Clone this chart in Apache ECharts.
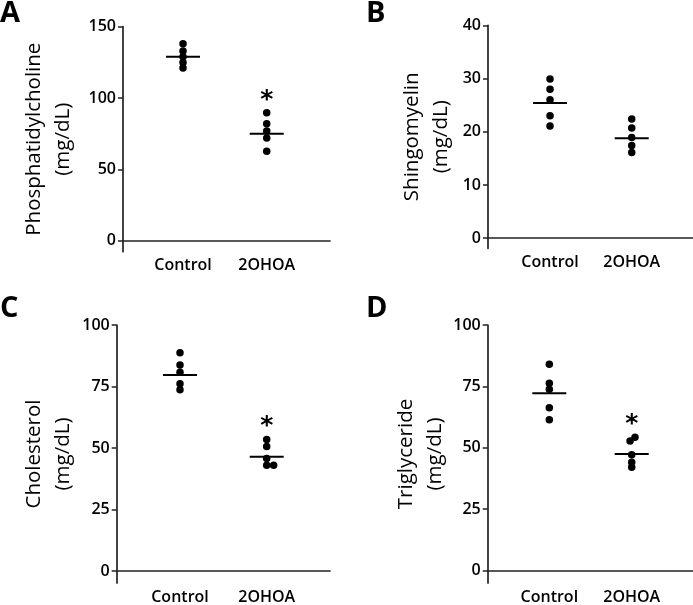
<!DOCTYPE html>
<html>
<head>
<meta charset="utf-8">
<script src="https://cdn.jsdelivr.net/npm/echarts@6/dist/echarts.min.js"></script>
<style>
  html, body { margin: 0; padding: 0; background: #fff; }
  #main { width: 693px; height: 605px; }
</style>
</head>
<body>
<div id="main"></div>
<script>
// groups on the x axis
var groups = ['Control', '2OHOA'];

// individual values (mg/dL)
var pcControl = [138, 133, 129, 125, 121];
var pc2ohoa = [89.8, 82, 77, 72, 62.7];
var smControl = [29.9, 28, 26, 23, 21.1];
var sm2ohoa = [22.4, 20.7, 18.9, 17.4, 16.1];
var choControl = [88.7, 83.8, 80.8, 76.1, 73.7];
var cho2ohoa = [53.5, 50.6, 45.8, 43, 43];
var tgControl = [84, 76.3, 73.8, 66.3, 61.4];
var tg2ohoa = [54.3, 52.7, 47.1, 44.1, 42.1];

// horizontal nudges of overlapping dots (x units)
var cho2ohoaJitter = [0, 0, 0, 0, 0.08];
var tg2ohoaJitter = [0.04, -0.02, 0, 0, 0];

// mean lines [Control, 2OHOA]
var pcMean = [129, 75];
var smMean = [25.4, 18.8];
var choMean = [79.7, 46.5];
var tgMean = [72.2, 47.4];

// panels with significance mark on 2OHOA
var pcSig = true, smSig = false, choSig = true, tgSig = true;

// y ticks
var pcTicks = [0, 50, 100, 150];
var smTicks = [0, 10, 20, 30, 40];
var choTicks = [0, 25, 50, 75, 100];
var tgTicks = [0, 25, 50, 75, 100];

var chartDom = document.getElementById('main');
var myChart = echarts.init(chartDom);

var font = 'Open Sans';
var ink = '#000';

var panels = [
  { letter: 'A', name: 'Phosphatidylcholine\n(mg/dL)', ctrl: pcControl, trt: pc2ohoa, jit: null, mean: pcMean, sig: pcSig, ticks: pcTicks,
    grid: { left: 123, top: 26.7, width: 207, height: 225 }, xr: [0.283, 2.756], ymin: -7.6, nameGap: 45, lt: [0, -1] },
  { letter: 'B', name: 'Shingomyelin\n(mg/dL)', ctrl: smControl, trt: sm2ohoa, jit: null, mean: smMean, sig: smSig, ticks: smTicks,
    grid: { left: 488, top: 25.3, width: 205, height: 223 }, xr: [0.241, 2.75], ymin: -1.9, nameGap: 32, lt: [366, -1] },
  { letter: 'C', name: 'Cholesterol\n(mg/dL)', ctrl: choControl, trt: cho2ohoa, jit: cho2ohoaJitter, mean: choMean, sig: choSig, ticks: choTicks,
    grid: { left: 116.7, top: 325, width: 213.3, height: 263.3 }, xr: [0.27, 2.73], ymin: -4.8, nameGap: 39, lt: [0, 294] },
  { letter: 'D', name: 'Triglyceride\n(mg/dL)', ctrl: tgControl, trt: tg2ohoa, jit: tg2ohoaJitter, mean: tgMean, sig: tgSig, ticks: tgTicks,
    grid: { left: 487.7, top: 325, width: 205.3, height: 263 }, xr: [0.252, 2.744], ymin: -5.1, nameGap: 34, lt: [366, 294] }
];

var grids = [], xAxes = [], yAxes = [], titles = [], series = [];

panels.forEach(function (p, i) {
  grids.push(p.grid);
  titles.push({
    text: p.letter, left: p.lt[0], top: p.lt[1], padding: 0,
    textStyle: { fontFamily: font, fontSize: 29, fontWeight: 'bold', color: '#000' }
  });
  xAxes.push({
    type: 'value', gridIndex: i, min: p.xr[0], max: p.xr[1],
    splitLine: { show: false },
    axisTick: { show: false },
    axisLine: { onZero: true, lineStyle: { color: '#222', width: 1.7 } },
    axisLabel: {
      customValues: [1, 2], margin: 6,
      formatter: function (v) { return groups[Math.round(v) - 1]; },
      fontFamily: font, fontSize: 16, fontWeight: 600, color: ink
    }
  });
  yAxes.push({
    type: 'value', gridIndex: i, min: p.ymin, max: p.ticks[p.ticks.length - 1],
    splitLine: { show: false },
    name: p.name, nameLocation: 'middle', nameRotate: 90, nameGap: p.nameGap,
    nameTextStyle: { fontFamily: font, fontSize: 20.5, color: ink, lineHeight: 29 },
    axisLine: { show: true, onZero: false, lineStyle: { color: '#222', width: 1.7 } },
    axisTick: { show: true, customValues: p.ticks, length: 5, lineStyle: { color: '#222', width: 1.5 } },
    axisLabel: { customValues: p.ticks, margin: 7, fontFamily: font, fontSize: 16, fontWeight: 600, color: ink }
  });

  var pts = [];
  p.ctrl.forEach(function (v) { pts.push([1, v]); });
  p.trt.forEach(function (v, k) { pts.push([2 + (p.jit ? p.jit[k] : 0), v]); });
  series.push({
    type: 'scatter', xAxisIndex: i, yAxisIndex: i, data: pts,
    symbol: 'circle', symbolSize: 7.5, itemStyle: { color: '#000', opacity: 1 }, silent: true
  });
  series.push({
    type: 'scatter', xAxisIndex: i, yAxisIndex: i,
    data: [[1, p.mean[0]], [2, p.mean[1]]],
    symbol: 'rect', symbolSize: [34, 2], itemStyle: { color: '#000', opacity: 1 }, silent: true
  });
  if (p.sig) {
    series.push({
      type: 'scatter', xAxisIndex: i, yAxisIndex: i,
      data: [[2, Math.max.apply(null, p.trt)]],
      symbolSize: 1, silent: true,
      itemStyle: { color: '#fff', opacity: 0 },
      label: {
        show: true, formatter: '*', position: 'top', distance: -2,
        fontFamily: 'DejaVu Sans', fontSize: 25, fontWeight: 'bold', color: '#000',
        opacity: 1, lineHeight: 28, textBorderWidth: 0
      }
    });
  }
});

var option = {
  animation: false,
  backgroundColor: '#fff',
  title: titles,
  grid: grids,
  xAxis: xAxes,
  yAxis: yAxes,
  series: series
};
myChart.setOption(option);
</script>
</body>
</html>
